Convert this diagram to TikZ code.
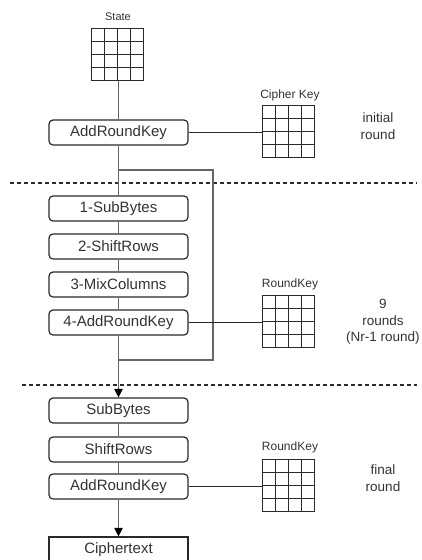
\documentclass[tikz,border=0pt]{standalone}
\usepackage{fontspec}
\setmainfont{Liberation Sans}
\usetikzlibrary{arrows.meta,calc}
\definecolor{txt}{HTML}{333333}
\definecolor{conn}{HTML}{666666}
\definecolor{bord}{HTML}{2A2A2A}
\tikzset{
  stepbox/.style={draw=bord, line width=1.2pt, rounded corners=4pt, minimum width=139pt, minimum height=25pt, inner sep=0pt, text=txt, font=\fontsize{15}{17}\selectfont},
  plainbox/.style={stepbox, rounded corners=0pt},
  grid4/.style={draw=bord, line width=1.2pt, minimum width=52pt, minimum height=52pt, inner sep=0pt,
    path picture={
      \foreach \i in {1,2,3}{
        \draw[bord, line width=1.2pt] ($(path picture bounding box.south west)!\i/4!(path picture bounding box.south east)$) -- ($(path picture bounding box.north west)!\i/4!(path picture bounding box.north east)$);
        \draw[bord, line width=1.2pt] ($(path picture bounding box.south west)!\i/4!(path picture bounding box.north west)$) -- ($(path picture bounding box.south east)!\i/4!(path picture bounding box.north east)$);
      }}},
  smalllabel/.style={text=txt, font=\fontsize{12}{14}\selectfont, inner sep=0pt},
  sidelabel/.style={text=txt, font=\fontsize{13.5}{16.5}\selectfont, align=center, inner sep=0pt},
  conn/.style={draw=conn, line width=1.1pt},
  keyline/.style={draw=bord, line width=1.1pt},
  arr/.style={conn, -{Triangle[width=8.5pt,length=8.5pt,color=black]}},
  sep/.style={draw=bord, line width=1.2pt, dash pattern=on 4pt off 3pt}
}
\begin{document}
\begin{tikzpicture}[x=1pt,y=-1pt]
\useasboundingbox (0,0) rectangle (421,560);
\clip (0,0) rectangle (421,560);
% labels
\node[smalllabel, font=\fontsize{11}{13}\selectfont] (lstate) at (118,17) {State};
\node[grid4] (state) at (117.5,54.5) {};
\node[smalllabel] (lck) at (290,95) {Cipher Key};
\node[grid4] (ck) at (288.5,131.5) {};
\node[sidelabel] (linit) at (378,126) {initial\\round};
% boxes
\node[stepbox] (ark0) at (118.5,132.5) {AddRoundKey};
\node[stepbox] (sb1) at (118.5,208.5) {1-SubBytes};
\node[stepbox] (sr2) at (118.5,246.5) {2-ShiftRows};
\node[stepbox] (mc3) at (118.5,284.5) {3-MixColumns};
\node[stepbox] (ark4) at (118.5,322.5) {4-AddRoundKey};
\node[smalllabel] (lrk1) at (290,284) {RoundKey};
\node[grid4] (rk1) at (288.5,321.5) {};
\node[sidelabel] (lnine) at (383,322) {9\\rounds\\(Nr-1 round)};
\node[stepbox] (sbf) at (118.5,410.5) {SubBytes};
\node[stepbox] (srf) at (118.5,449.5) {ShiftRows};
\node[stepbox] (arkf) at (118.5,486.5) {AddRoundKey};
\node[smalllabel] (lrk2) at (290,447) {RoundKey};
\node[grid4] (rk2) at (288.5,485.5) {};
\node[sidelabel] (lfinal) at (383,478) {final\\round};
\node[plainbox] (ct) at (118.5,549.5) {Ciphertext};
% separators
\coordinate (d1l) at (10,183); \coordinate (d1r) at (417,183);
\coordinate (d2l) at (22,385); \coordinate (d2r) at (417,385);
\draw[sep] (d1l) -- (d1r);
\draw[sep] (d2l) -- (d2r);
% connectors
\draw[conn] (state.south -| ark0.north) -- (ark0.north);
\draw[keyline] (ark0.east) -- (ck.west |- ark0.east);
\coordinate (j1) at (118.5,170);
\coordinate (j2) at (118.5,360);
\coordinate (lr) at (213,170);
\draw[conn] (ark0.south) -- (sb1.north);
\draw[conn] (j1) -- (lr) -- (lr |- j2) -- (j2);
\draw[conn] (sb1.south) -- (sr2.north);
\draw[conn] (sr2.south) -- (mc3.north);
\draw[conn] (mc3.south) -- (ark4.north);
\draw[keyline] (ark4.east) -- (rk1.west |- ark4.east);
\draw[arr] (ark4.south) -- (sbf.north);
\draw[conn] (sbf.south) -- (srf.north);
\draw[conn] (srf.south) -- (arkf.north);
\draw[keyline] (arkf.east) -- (rk2.west |- arkf.east);
\draw[arr] (arkf.south) -- (ct.north);
\end{tikzpicture}
\end{document}
